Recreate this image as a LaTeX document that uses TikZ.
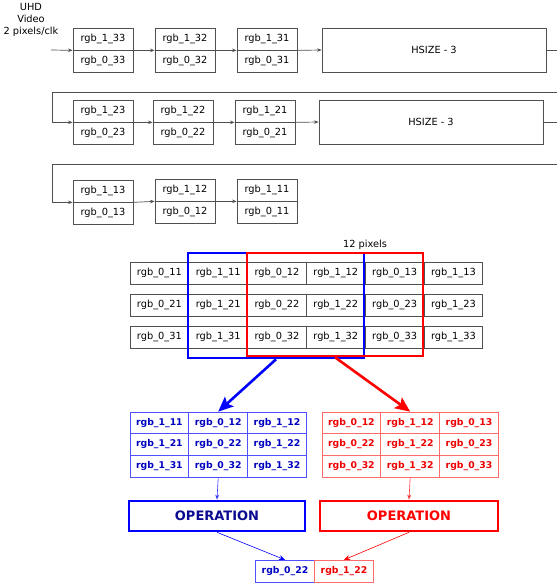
\documentclass[tikz,border=0pt]{standalone}
\usepackage{fontspec}
\setmainfont{DejaVu Sans}
\usetikzlibrary{arrows.meta}
\definecolor{gline}{HTML}{505050}
\definecolor{bborder}{HTML}{5050FF}
\definecolor{btext}{HTML}{0000C0}
\definecolor{bop}{HTML}{0A0A90}
\definecolor{rborder}{HTML}{FF6A6A}
\definecolor{rtext}{HTML}{EE0000}
\tikzset{
  cell/.style={draw=gline, line width=0.7pt, minimum width=60pt, minimum height=22pt, inner sep=0pt,
    font=\fontsize{9.8}{12}\selectfont},
  hbox/.style={draw=gline, line width=0.7pt, minimum width=224pt, minimum height=44pt, inner sep=0pt,
    font=\fontsize{9.8}{12}\selectfont},
  gcell/.style={draw=gline, line width=0.7pt, minimum width=58.8pt, minimum height=22pt, inner sep=0pt,
    font=\fontsize{9.8}{12}\selectfont},
  bcell/.style={draw=bborder, line width=0.7pt, minimum width=58.8pt, minimum height=21.7pt, inner sep=0pt,
    text=btext, font=\fontsize{9.3}{12}\selectfont\bfseries},
  rcell/.style={draw=rborder, line width=0.7pt, minimum width=58.8pt, minimum height=21.7pt, inner sep=0pt,
    text=rtext, font=\fontsize{9.3}{12}\selectfont\bfseries},
  flow/.style={draw=gline, line width=0.7pt, -{Stealth[length=4.5pt,width=3.5pt]}},
  plain/.style={draw=gline, line width=0.7pt},
  bigarrow/.style={line width=2.6pt, -{Stealth[length=15pt,width=13pt,inset=3pt]}},
  opbox/.style={line width=2.6pt, minimum height=30pt, inner sep=0pt, font=\fontsize{13}{15}\selectfont\bfseries},
}
\begin{document}
\begin{tikzpicture}[x=1pt,y=-1pt]
\useasboundingbox (0,0) rectangle (557,584);
% input label
\node[align=center, font=\fontsize{9.8}{12}\selectfont, inner sep=0pt] (uhd) at (31,20) {UHD\\Video\\2 pixels/clk};
\coordinate (in) at (51,50);
% row 1
\node[cell] (a133) at (103,39) {rgb\_1\_33};
\node[cell] (a033) at (103,61) {rgb\_0\_33};
\node[cell] (a132) at (185,39) {rgb\_1\_32};
\node[cell] (a032) at (185,61) {rgb\_0\_32};
\node[cell] (a131) at (267,39) {rgb\_1\_31};
\node[cell] (a031) at (267,61) {rgb\_0\_31};
\node[hbox] (h1) at (434,50) {HSIZE - 3};
\draw[flow] (in) -- (a133.south west);
\draw[flow] (a133.south east) -- (a132.south west);
\draw[flow] (a132.south east) -- (a131.south west);
\draw[flow] (a131.south east) -- (h1.west);
\coordinate (e1) at (557,50);
\draw[plain] (h1.east) -- (e1);
% row 2
\coordinate (r2a) at (557,92);
\coordinate (r2b) at (52,92);
\node[cell] (a123) at (103,111) {rgb\_1\_23};
\node[cell] (a023) at (103,133) {rgb\_0\_23};
\node[cell] (a122) at (183,111) {rgb\_1\_22};
\node[cell] (a022) at (183,133) {rgb\_0\_22};
\node[cell] (a121) at (265,111) {rgb\_1\_21};
\node[cell] (a021) at (265,133) {rgb\_0\_21};
\node[hbox] (h2) at (431,122) {HSIZE - 3};
\draw[flow] (r2a) -- (r2b) |- (a123.south west);
\draw[flow] (a123.south east) -- (a122.south west);
\draw[flow] (a122.south east) -- (a121.south west);
\draw[flow] (a121.south east) -- (h2.west);
\coordinate (e2) at (557,122);
\draw[plain] (h2.east) -- (e2);
% row 3
\coordinate (r3a) at (557,164);
\coordinate (r3b) at (52,164);
\node[cell] (a113) at (103,191) {rgb\_1\_13};
\node[cell] (a013) at (103,213) {rgb\_0\_13};
\node[cell] (a112) at (185,190) {rgb\_1\_12};
\node[cell] (a012) at (185,212) {rgb\_0\_12};
\node[cell] (a111) at (267,190) {rgb\_1\_11};
\node[cell] (a011) at (267,212) {rgb\_0\_11};
\draw[flow] (r3a) -- (r3b) |- (a113.south west);
\draw[flow] (a113.south east) -- (a112.south west);
\draw[flow] (a112.south east) -- (a111.south west);
% grid
\foreach \r/\y in {1/273,2/305,3/337}{
  \node[gcell] (g0\r1) at (159.4,\y) {rgb\_0\_\r1};
  \node[gcell] (g1\r1) at (218.2,\y) {rgb\_1\_\r1};
  \node[gcell] (g0\r2) at (277.0,\y) {rgb\_0\_\r2};
  \node[gcell] (g1\r2) at (335.8,\y) {rgb\_1\_\r2};
  \node[gcell] (g0\r3) at (394.6,\y) {rgb\_0\_\r3};
  \node[gcell] (g1\r3) at (453.4,\y) {rgb\_1\_\r3};
}
\node[font=\fontsize{9.8}{12}\selectfont, inner sep=0pt] (twelve) at (365,245) {12 pixels};
\node[draw=blue, line width=2.6pt, minimum width=176pt, minimum height=105pt, inner sep=0pt] (bluebox) at (276,305.5) {};
\node[draw=red, line width=2.6pt, minimum width=176pt, minimum height=103pt, inner sep=0pt] (redbox) at (335,304.5) {};
% blue grid
\foreach \r/\y in {1/422.85,2/444.55,3/466.25}{
  \node[bcell] (b1\r1) at (159.4,\y) {rgb\_1\_\r1};
  \node[bcell] (b0\r2) at (218.2,\y) {rgb\_0\_\r2};
  \node[bcell] (b1\r2) at (277.0,\y) {rgb\_1\_\r2};
}
% red grid
\foreach \r/\y in {1/422.85,2/444.55,3/466.25}{
  \node[rcell] (c0\r2) at (351.4,\y) {rgb\_0\_\r2};
  \node[rcell] (c1\r2) at (410.2,\y) {rgb\_1\_\r2};
  \node[rcell] (c0\r3) at (469.0,\y) {rgb\_0\_\r3};
}
\draw[bigarrow, blue] (bluebox.south) -- (b012.north);
\draw[bigarrow, red] (redbox.south) -- (c112.north);
% operations
\node[opbox, draw=blue, text=bop, minimum width=176pt] (opb) at (217,516) {OPERATION};
\node[opbox, draw=red, text=red, minimum width=178pt] (opr) at (409,516) {OPERATION};
\draw[blue!80, line width=0.6pt, -{Stealth[length=5pt,width=4pt,open]}] (b032.south) -- (opb.north);
\draw[red!80, line width=0.6pt, -{Stealth[length=5pt,width=4pt,open]}] (c132.south) -- (opr.north);
% results
\node[bcell] (res0) at (285,571) {rgb\_0\_22};
\node[rcell] (res1) at (344,571) {rgb\_1\_22};
\draw[blue, line width=0.6pt, -{Stealth[length=6pt,width=5pt]}] (opb.south) -- (res0.north);
\draw[red, line width=0.6pt, -{Stealth[length=6pt,width=5pt]}] (opr.south) -- (res1.north);
\end{tikzpicture}
\end{document}
